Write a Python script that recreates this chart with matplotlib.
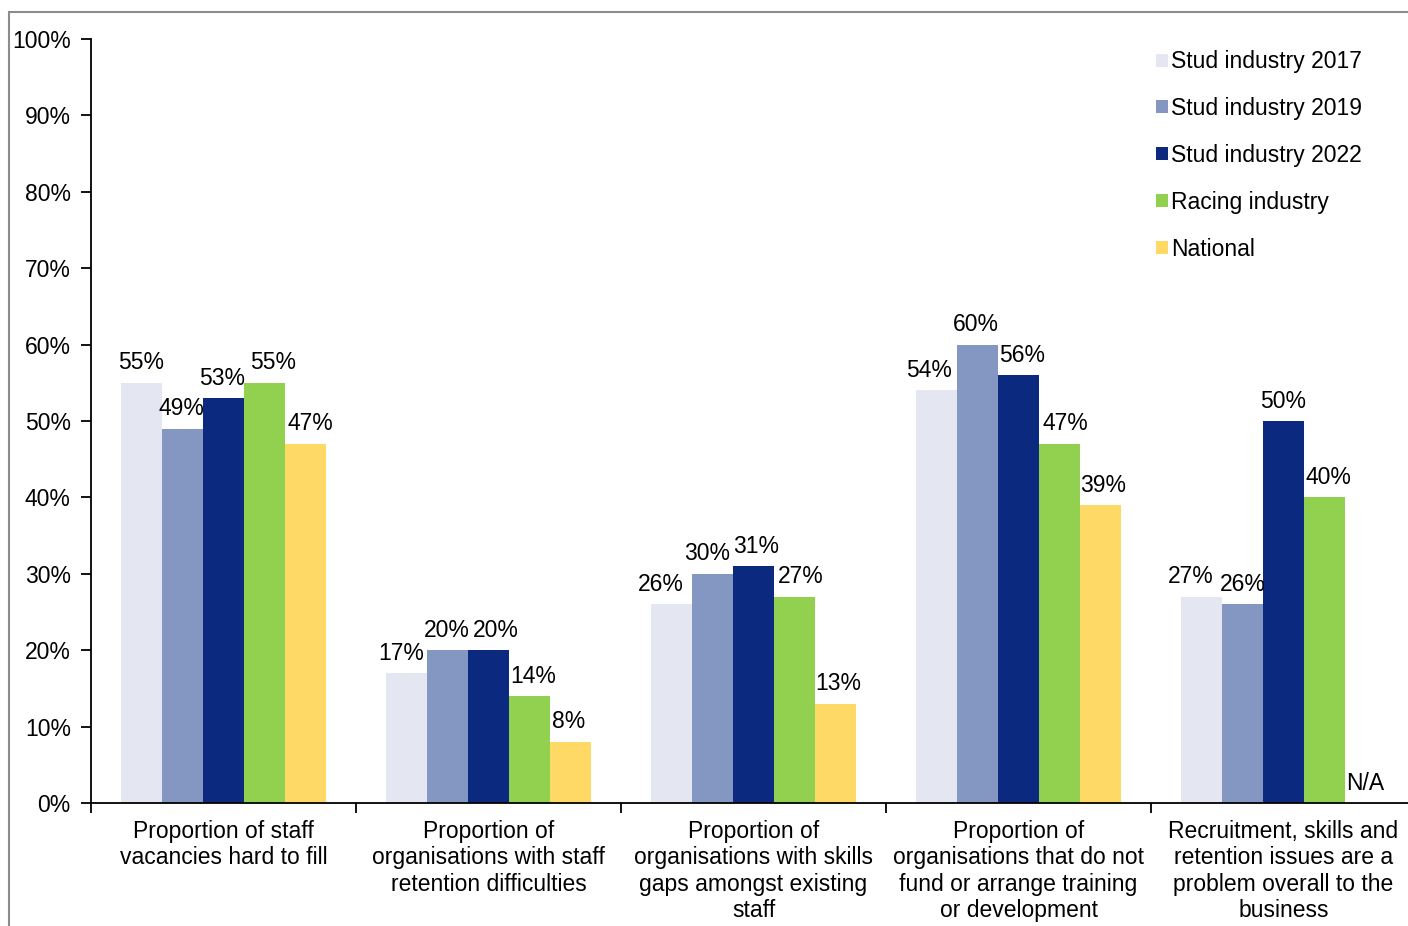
import matplotlib
matplotlib.use("Agg")
import matplotlib.pyplot as plt
from matplotlib.patches import Rectangle
import numpy as np

plt.rcParams['font.family'] = ['Liberation Sans', 'DejaVu Sans']

categories = [
    "Proportion of staff\nvacancies hard to fill",
    "Proportion of\norganisations with staff\nretention difficulties",
    "Proportion of\norganisations with skills\ngaps amongst existing\nstaff",
    "Proportion of\norganisations that do not\nfund or arrange training\nor development",
    "Recruitment, skills and\nretention issues are a\nproblem overall to the\nbusiness",
]
series_names = ["Stud industry 2017", "Stud industry 2019", "Stud industry 2022",
                "Racing industry", "National"]
stud_2017 = [55, 17, 26, 54, 27]
stud_2019 = [49, 20, 30, 60, 26]
stud_2022 = [53, 20, 31, 56, 50]
racing = [55, 14, 27, 47, 40]
national = [47, 8, 13, 39, None]
colors = ["#E4E7F1", "#8497C3", "#0B2A7F", "#92D050", "#FFD966"]
yticks = list(range(0, 101, 10))

# horizontal nudges of the value labels (pixels), per series, per category
label_dx = [
    [-1, -6, -11, -8, -11],
    [-1, -1, -5.5, -1.5, 0],
    [-1, 7.5, 2.5, 3.5, 0],
    [9, 3.5, 6, 6, 4.5],
    [5, -1, 3.5, 3, 0],
]

all_series = [stud_2017, stud_2019, stud_2022, racing, national]

fig = plt.figure(figsize=(14.08, 9.26), dpi=100)
ax = fig.add_axes([91/1408, 123/926, 1325/1408, 764/926])

fs = 16.5
n = len(all_series)
w = 0.154
x = np.arange(len(categories))
px = 72 / fig.dpi
for i, (vals, name, c) in enumerate(zip(all_series, series_names, colors)):
    pos = x + (i - (n - 1) / 2) * w
    heights = [v if v is not None else 0 for v in vals]
    ax.bar(pos, heights, width=w, color=c, label=name, edgecolor='none')
    for j, (p, v) in enumerate(zip(pos, vals)):
        txt = "N/A" if v is None else f"{v}%"
        yv = 0 if v is None else v
        ax.annotate(txt, (p, yv), xytext=(label_dx[i][j] * px, 13.5 * px),
                    textcoords='offset points', ha='center', va='baseline',
                    fontsize=fs)

ax.set_xlim(-0.5, len(categories) - 0.5)
ax.set_ylim(0, 100)
ax.set_yticks(yticks)
ax.set_yticklabels([f"{t}%" for t in yticks], fontsize=fs)
ax.tick_params(axis='y', direction='out', length=7, width=1.3, pad=7.5)

ax.set_xticks(np.arange(-0.5, len(categories), 1.0))
ax.set_xticklabels([])
ax.set_xticks(x, minor=True)
ax.set_xticklabels(categories, minor=True, fontsize=fs, linespacing=1.19)
ax.tick_params(axis='x', which='major', direction='out', length=7, width=1.3)
ax.tick_params(axis='x', which='minor', length=0, pad=12)

for s in ['top', 'right']:
    ax.spines[s].set_visible(False)
for s in ['left', 'bottom']:
    ax.spines[s].set_linewidth(1.3)

leg = ax.legend(loc='upper left', bbox_to_anchor=(1147/1408, 885/926),
                bbox_transform=fig.transFigure, frameon=False, fontsize=fs,
                handlelength=0.5, handleheight=0.5, handletextpad=0.15,
                labelspacing=1.04, borderaxespad=0)

fig.patches.append(Rectangle((9/1408, -0.2), 1.5, 1.2 - 12/926 + 0.0,
                             transform=fig.transFigure, fill=False,
                             edgecolor='#8c8c8c', linewidth=1.5, figure=fig))

fig.savefig("out.png", dpi=100)
